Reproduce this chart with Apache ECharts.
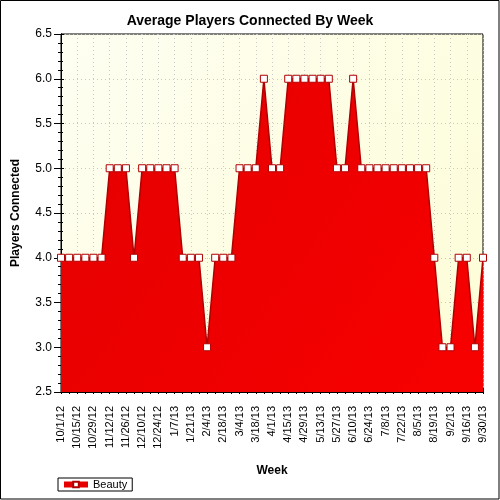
<!DOCTYPE html>
<html>
<head>
<meta charset="utf-8">
<script src="https://cdn.jsdelivr.net/npm/echarts@6/dist/echarts.min.js"></script>
<style>
html,body{margin:0;padding:0;background:#fff;}
#chart{width:500px;height:500px;}
</style>
</head>
<body>
<div id="chart"></div>
<script>
const weeks = ["10/1/12","10/8/12","10/15/12","10/22/12","10/29/12","11/5/12","11/12/12","11/19/12","11/26/12","12/3/12","12/10/12","12/17/12","12/24/12","12/31/12","1/7/13","1/14/13","1/21/13","1/28/13","2/4/13","2/11/13","2/18/13","2/25/13","3/4/13","3/11/13","3/18/13","3/25/13","4/1/13","4/8/13","4/15/13","4/22/13","4/29/13","5/6/13","5/13/13","5/20/13","5/27/13","6/3/13","6/10/13","6/17/13","6/24/13","7/1/13","7/8/13","7/15/13","7/22/13","7/29/13","8/5/13","8/12/13","8/19/13","8/26/13","9/2/13","9/9/13","9/16/13","9/23/13","9/30/13"];
const beauty = [4,4,4,4,4,4,5,5,5,4,5,5,5,5,5,4,4,4,3,4,4,4,5,5,5,6,5,5,6,6,6,6,6,6,5,5,6,5,5,5,5,5,5,5,5,5,4,3,3,4,4,3,4];
const seriesName = "Beauty";
const chartTitle = "Average Players Connected By Week";
const xName = "Week";
const yName = "Players Connected";
const yMin = 2.5, yMax = 6.5, yStep = 0.5;

const FONT = '"Liberation Sans", Arial, sans-serif';
const chart = echarts.init(document.getElementById('chart'), null, {renderer:'canvas'});
const baseX = {
  type: 'category', data: weeks, boundaryGap: false, position: 'bottom',
  axisLine: {show: true, onZero: false, lineStyle: {color: '#000', width: 1}},
  axisLabel: {show: false}, splitLine: {show: false}
};
const baseY = {
  type: 'value', min: yMin, max: yMax, interval: yStep, position: 'left',
  axisLine: {show: true, lineStyle: {color: '#000', width: 1}},
  axisLabel: {show: false}, splitLine: {show: false}
};
chart.setOption({
  animation: false,
  backgroundColor: '#fff',
  title: {
    text: chartTitle, left: 'center', top: 9,
    textStyle: {fontFamily: FONT, fontSize: 14, fontWeight: 'bold', color: '#000'}
  },
  legend: {
    left: 58, top: 478, orient: 'horizontal',
    data: [seriesName],
    itemWidth: 24, itemHeight: 7, itemGap: 5,
    padding: [1, 5, 1, 3],
    borderColor: '#000', borderWidth: 1, borderRadius: 0,
    lineStyle: {width: 6, color: '#e60000'},
    textStyle: {fontFamily: FONT, fontSize: 11, color: '#000'}
  },
  grid: {
    left: 61, right: 17, top: 34, bottom: 108,
    outerBoundsMode: 'none',
    show: true, borderColor: '#000', borderWidth: 1,
    backgroundColor: new echarts.graphic.LinearGradient(0, 0, 1, 1, [
      {offset: 0, color: '#fefef2'}, {offset: 1, color: '#fdfdd6'}
    ])
  },
  xAxis: [
    Object.assign({}, baseX, {
      name: xName, nameLocation: 'middle', nameGap: 73,
      nameTextStyle: {fontFamily: FONT, fontSize: 12, fontWeight: 'bold', color: '#000'},
      axisTick: {show: true, interval: 0, inside: false, length: 2, lineStyle: {color: '#000'}},
      axisLabel: {show: true, rotate: 90, interval: 1, margin: 14,
        fontFamily: FONT, fontSize: 11, color: '#000'},
      splitLine: {show: true, interval: 1, lineStyle: {color: '#c8c8c8', type: [1, 3], width: 1}}
    }),
    Object.assign({}, baseX, {
      axisTick: {show: true, interval: 1, inside: true, length: 4, lineStyle: {color: '#000'}}
    })
  ],
  yAxis: [
    Object.assign({}, baseY, {
      name: yName, nameLocation: 'middle', nameGap: 39,
      nameTextStyle: {fontFamily: FONT, fontSize: 12, fontWeight: 'bold', color: '#000'},
      axisTick: {show: true, inside: false, length: 7, lineStyle: {color: '#000'}},
      minorTick: {show: true, splitNumber: 5, length: 3, lineStyle: {color: '#000'}},
      axisLabel: {show: true, margin: 9, fontFamily: FONT, fontSize: 12, color: '#000',
        formatter: (v) => v.toFixed(1)},
      splitLine: {show: true, lineStyle: {color: '#c8c8c8', type: [1, 3], width: 1}}
    }),
    Object.assign({}, baseY, {
      axisTick: {show: true, inside: true, length: 3, lineStyle: {color: '#000'}},
      minorTick: {show: true, splitNumber: 5, length: 2, lineStyle: {color: '#000'}}
    })
  ],
  series: [{
    name: seriesName, type: 'line', data: beauty,
    xAxisIndex: 0, yAxisIndex: 0,
    symbol: 'rect', symbolSize: 7, showAllSymbol: true,
    lineStyle: {color: '#b00000', width: 1.5},
    itemStyle: {color: '#fff', borderColor: '#b00000', borderWidth: 1},
    areaStyle: {
      origin: 'start',
      color: new echarts.graphic.LinearGradient(0, 0, 1, 1, [
        {offset: 0, color: '#e40000'}, {offset: 1, color: '#f80000'}
      ]),
      opacity: 1
    },
    z: 3
  }],
  graphic: [{
    type: 'rect', silent: true, z: 100,
    shape: {x: 0.5, y: 0.5, width: 498.5, height: 498.5},
    style: {fill: null, stroke: '#000', lineWidth: 1}
  }]
});
</script>
</body>
</html>
